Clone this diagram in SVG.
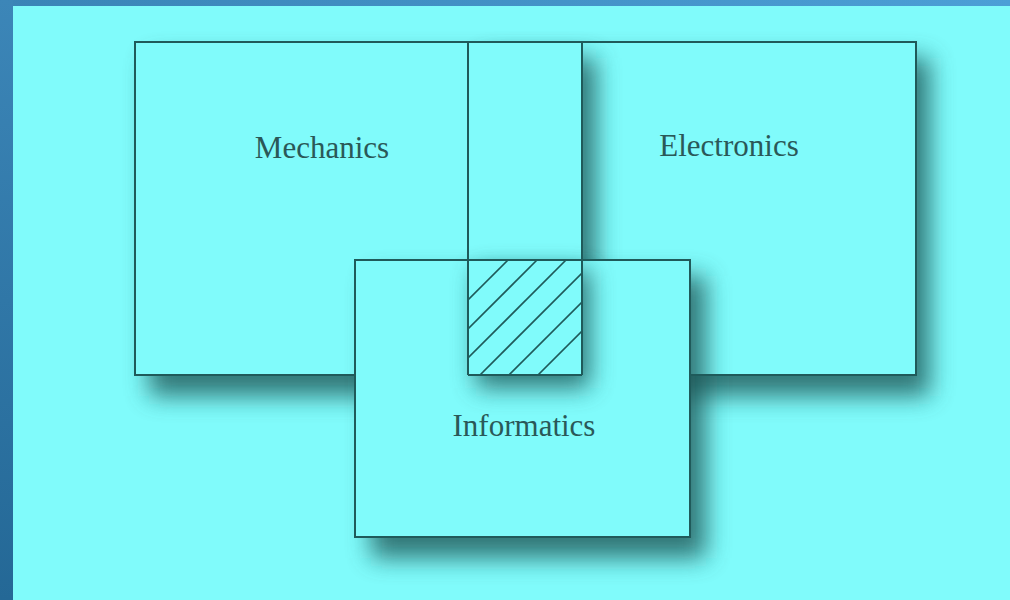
<svg xmlns="http://www.w3.org/2000/svg" width="1010" height="600" viewBox="0 0 1010 600">
  <defs>
    <linearGradient id="leftBar" x1="0" y1="0" x2="0" y2="1">
      <stop offset="0" stop-color="#3c86b8"/>
      <stop offset="1" stop-color="#246896"/>
    </linearGradient>
    <linearGradient id="topBar" x1="0" y1="0" x2="1" y2="0">
      <stop offset="0" stop-color="#3a84b6"/>
      <stop offset="1" stop-color="#4c9fd6"/>
    </linearGradient>
    <filter id="shadow" x="-30%" y="-30%" width="160%" height="160%">
      <feGaussianBlur stdDeviation="12"/>
    </filter>
    <clipPath id="hatchClip">
      <rect x="468" y="260" width="114" height="115"/>
    </clipPath>
    <style>
      .box { fill: #80fbfb; }
      .edge { fill: none; stroke: #1f5a5a; stroke-width: 2; }
      .shd { fill: #1a5656; opacity: 0.8; filter: url(#shadow); }
      .hatch { stroke: #1f5a5a; stroke-width: 1.6; }
      .lbl { font-family: "Liberation Serif", "Times New Roman", serif; font-size: 31px; fill: #2a5858; text-anchor: middle; }
    </style>
  </defs>

  <rect x="0" y="0" width="1010" height="600" fill="#80fbfb"/>
  <rect x="0" y="0" width="1010" height="6" fill="url(#topBar)"/>
  <rect x="0" y="0" width="13" height="600" fill="url(#leftBar)"/>

  <g id="electronics">
    <rect class="shd" x="482" y="58" width="448" height="338"/>
    <rect class="box" x="468" y="42" width="448" height="333"/>
  </g>

  <g id="mechanics">
    <rect class="shd" x="149" y="58" width="447" height="338"/>
    <rect class="box" x="135" y="42" width="447" height="333"/>
  </g>

  <g id="informatics">
    <rect class="shd" x="371" y="276" width="335" height="282"/>
    <rect class="box" x="355" y="260" width="335" height="277"/>
  </g>

  <g id="overlap">
    <rect class="shd" x="476" y="270" width="114" height="118"/>
    <rect class="box" x="468" y="260" width="114" height="115"/>
    <g clip-path="url(#hatchClip)">
      <line class="hatch" x1="468" y1="300" x2="580" y2="188"/>
      <line class="hatch" x1="468" y1="329" x2="580" y2="217"/>
      <line class="hatch" x1="468" y1="358" x2="580" y2="246"/>
      <line class="hatch" x1="468" y1="387" x2="582" y2="273"/>
      <line class="hatch" x1="468" y1="416" x2="582" y2="302"/>
      <line class="hatch" x1="468" y1="445" x2="582" y2="331"/>
    </g>
  </g>

  <g id="connectors">
    <path class="edge" d="M355,375 H135 V42 H916 V375 H690"/>
    <line class="edge" x1="468" y1="42" x2="468" y2="375"/>
    <line class="edge" x1="582" y1="42" x2="582" y2="375"/>
    <line class="edge" x1="468" y1="375" x2="582" y2="375"/>
    <rect class="edge" x="355" y="260" width="335" height="277"/>
  </g>

  <text class="lbl" x="322" y="158">Mechanics</text>
  <text class="lbl" x="729" y="156">Electronics</text>
  <text class="lbl" x="524" y="436">Informatics</text>
</svg>
